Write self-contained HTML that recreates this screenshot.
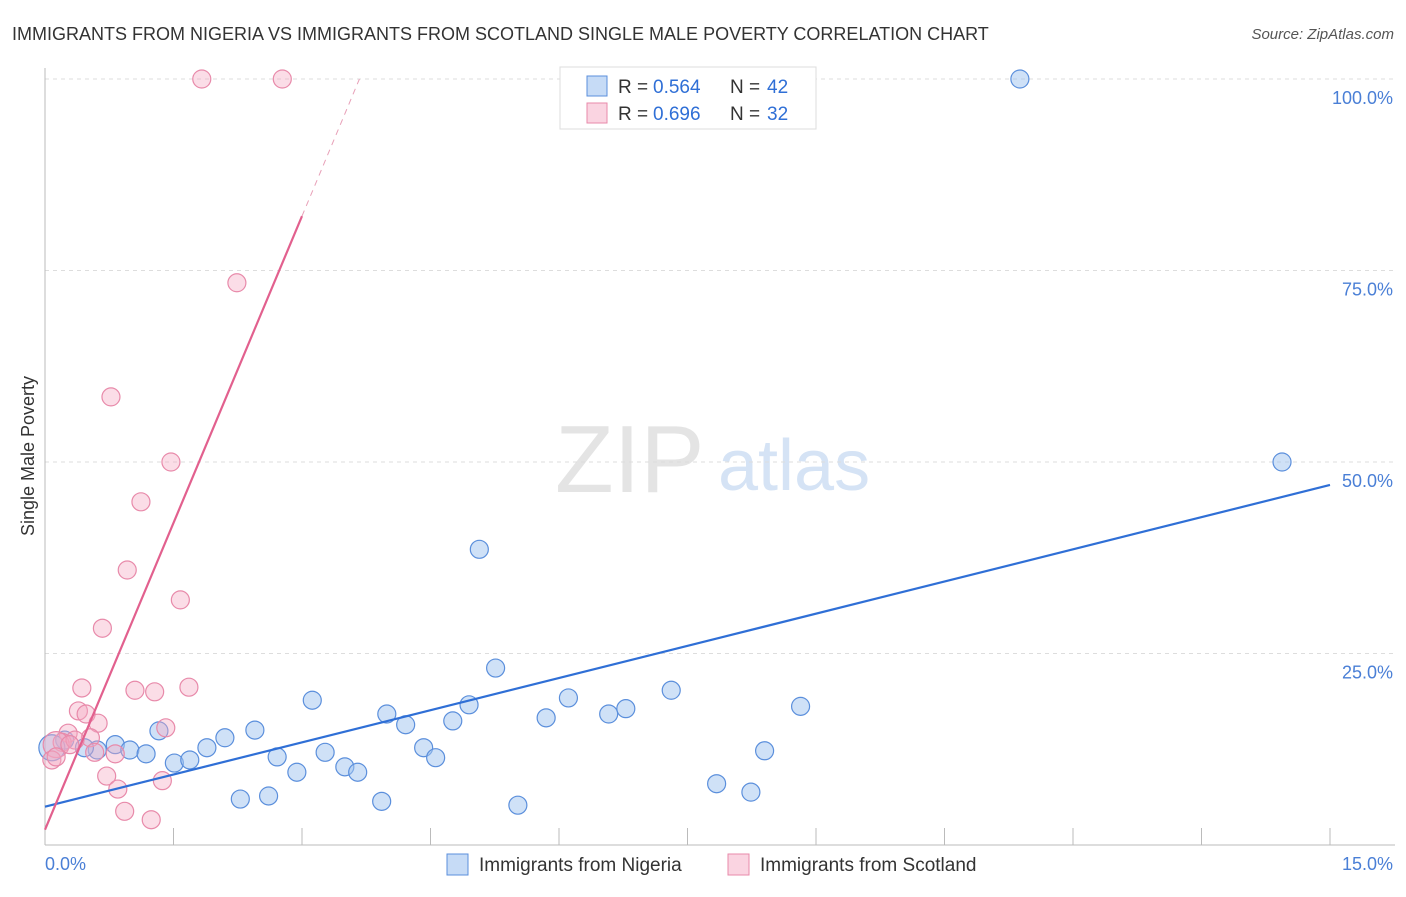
<!DOCTYPE html>
<html><head><meta charset="utf-8"><style>
body{margin:0;background:#fff;font-family:"Liberation Sans",sans-serif}
svg text{font-family:"Liberation Sans",sans-serif}
</style></head><body>
<svg id="c" width="1406" height="892" xmlns="http://www.w3.org/2000/svg"></svg>
<script>
const nigeriaX=[11.38,14.44,5.07,5.26,3.12,7.31,6.11,8.82,6.78,6.58,4.95,3.99,5.85,4.76,4.21,2.45,1.33,2.10,1.89,0.82,0.99,1.18,0.61,0.46,0.23,0.08,2.71,3.27,4.42,4.56,8.40,1.51,1.69,2.94,3.50,3.65,2.28,2.61,3.93,5.52,7.84,8.24];
const nigeriaY=[100,50.0,38.6,23.1,18.9,20.2,19.2,18.1,17.8,17.1,18.3,17.1,16.6,16.2,15.7,15.0,14.9,14.0,12.7,13.1,12.4,11.9,12.4,12.7,13.7,12.7,11.5,12.1,12.7,11.4,12.3,10.7,11.1,9.5,10.2,9.5,6.0,6.4,5.7,5.2,8.0,6.9];
const scotlandX=[1.83,2.77,2.24,0.77,1.47,1.12,0.96,1.58,0.67,0.43,1.68,1.05,1.28,0.39,0.48,0.62,1.41,0.27,0.53,0.20,0.13,0.35,0.58,0.82,0.08,0.72,1.37,0.85,0.93,1.24,0.13,0.29];
const scotlandY=[100,100,73.4,58.5,50.0,44.8,35.9,32.0,28.3,20.5,20.6,20.2,20.0,17.5,17.1,15.9,15.3,14.6,14.0,13.4,13.1,13.7,12.1,11.9,11.1,9.0,8.4,7.3,4.4,3.3,11.5,13.1];
const yTicks=[25,50,75,100];
const yTickLabels=["25.0%","50.0%","75.0%","100.0%"];
const nigeriaTrend=[5.0,47.0];
const scotlandTrend=[2.0,26.7];
const NS="http://www.w3.org/2000/svg";
const svg=document.getElementById('c');
const X=v=>45+v/15*1285, Y=v=>845-v/100*766;
function el(t,a,txt){const e=document.createElementNS(NS,t);for(const k in a)e.setAttribute(k,a[k]);if(txt!=null)e.textContent=txt;svg.appendChild(e);return e;}
let e;
e=el('text',{x:12,y:40,'font-size':18,fill:'#333'},'IMMIGRANTS FROM NIGERIA VS IMMIGRANTS FROM SCOTLAND SINGLE MALE POVERTY CORRELATION CHART');

e=el('text',{x:1394,y:39,'font-size':15,fill:'#555','font-style':'italic','text-anchor':'end'},'Source: ZipAtlas.com');

e=el('text',{x:555,y:492,'font-size':96,fill:'#e4e4e4','font-family':'Liberation Serif'},'ZIP');

e=el('text',{x:718,y:490,'font-size':72,fill:'#d5e3f5'},'atlas');

yTicks.forEach((t,i)=>{
 e=el('line',{x1:45,x2:1395,y1:Y(t),y2:Y(t),stroke:'#ddd','stroke-dasharray':'4,4'});
 
 e=el('text',{x:1393,y:Y(t)+25,'font-size':18,fill:'#4a7fd6','text-anchor':'end'},yTickLabels[i]);
 
});
e=el('line',{x1:45,x2:45,y1:68,y2:845,stroke:'#bbb'});
e=el('line',{x1:45,x2:1395,y1:845,y2:845,stroke:'#bbb'});
for(let i=1;i<=10;i++){e=el('line',{x1:X(i*1.5),x2:X(i*1.5),y1:828,y2:845,stroke:'#bbb'});}
e=el('text',{x:45,y:870,'font-size':18,fill:'#4a7fd6'},'0.0%');
e=el('text',{x:1393,y:870,'font-size':18,fill:'#4a7fd6','text-anchor':'end'},'15.0%');
e=el('text',{x:34,y:456,'font-size':18,fill:'#333','text-anchor':'middle',transform:'rotate(-90 34 456)'},'Single Male Poverty');

function dots(xs,ys,fill,stroke,name){xs.forEach((v,i)=>{const big=(v<0.15&&ys[i]>12&&ys[i]<14);
 const c=el('circle',{cx:X(v),cy:Y(ys[i]),r:big?13:9,fill:fill,stroke:stroke,'stroke-width':1.2});
 });}
dots(nigeriaX,nigeriaY,'rgba(160,195,240,0.5)','#5b8fdc','nigeria-point');
dots(scotlandX,scotlandY,'rgba(245,170,195,0.4)','#e88aaa','scotland-point');
e=el('line',{x1:X(0),y1:Y(nigeriaTrend[0]),x2:X(15),y2:Y(nigeriaTrend[1]),stroke:'#2f6fd6','stroke-width':2.2});

const sx=3.0,sx2=(100-scotlandTrend[0])/scotlandTrend[1];
e=el('line',{x1:X(0),y1:Y(scotlandTrend[0]),x2:X(sx),y2:Y(scotlandTrend[0]+scotlandTrend[1]*sx),stroke:'#e2608e','stroke-width':2.2});

e=el('line',{x1:X(sx),y1:Y(scotlandTrend[0]+scotlandTrend[1]*sx),x2:X(sx2),y2:Y(100),stroke:'#e8a0b8','stroke-width':1,'stroke-dasharray':'6,5'});

// legend
e=el('rect',{x:560,y:67,width:256,height:62,fill:'#fff',stroke:'#ddd'});
[['rgba(160,195,240,0.6)','#5b8fdc','0.564','42',86],['rgba(245,170,195,0.5)','#e88aaa','0.696','32',113]].forEach(r=>{
 e=el('rect',{x:587,y:r[4]-10,width:20,height:20,fill:r[0],stroke:r[1]});
 e=el('text',{x:618,y:r[4]+7,'font-size':19,fill:'#333'},'R = ');
 e=el('text',{x:653,y:r[4]+7,'font-size':19,fill:'#2f6fd6'},r[2]);
 e=el('text',{x:730,y:r[4]+7,'font-size':19,fill:'#333'},'N = ');
 e=el('text',{x:767,y:r[4]+7,'font-size':19,fill:'#2f6fd6'},r[3]);
});
[[447,'rgba(160,195,240,0.6)','#5b8fdc','Immigrants from Nigeria'],[728,'rgba(245,170,195,0.5)','#e88aaa','Immigrants from Scotland']].forEach(r=>{
 e=el('rect',{x:r[0],y:854,width:21,height:21,fill:r[1],stroke:r[2]});
 e=el('text',{x:r[0]+32,y:871,'font-size':19,fill:'#333'},r[3]);
});
</script>
</body></html>
